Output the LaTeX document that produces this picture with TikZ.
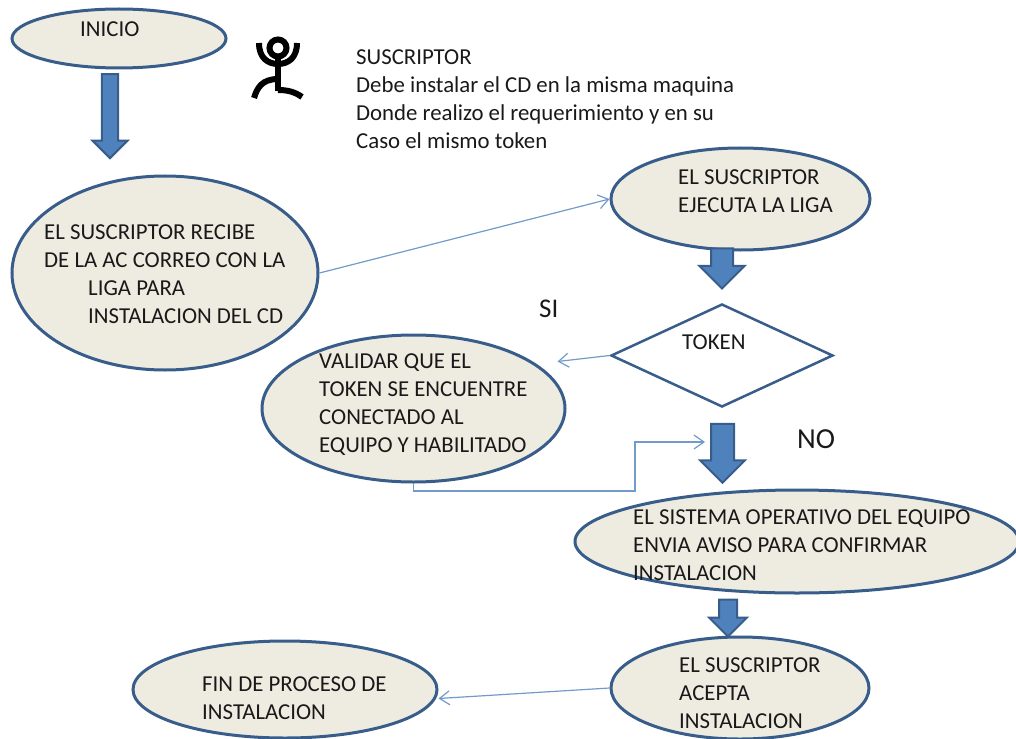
\documentclass[tikz,border=0pt]{standalone}
\usepackage{fontspec}
\setmainfont{Carlito}
\usepackage{tikz}
\usetikzlibrary{shapes, arrows.meta, positioning}
\definecolor{paleback}{HTML}{EEECE1}
\definecolor{darkedge}{HTML}{385D8A}
\definecolor{midblue}{HTML}{4F81BD}
\tikzset{
  oval/.style={ellipse, draw=darkedge, line width=3pt, fill=paleback, inner sep=0pt},
  rombo/.style={diamond, draw=darkedge, line width=2.5pt, fill=white, inner sep=0pt},
  bloque/.style={single arrow, draw=darkedge, line width=2pt, fill=midblue, inner xsep=0pt, rotate=-90, single arrow tip angle=90},
  liga/.style={draw=midblue!80, line width=1.2pt, -{Straight Barb[length=10pt,width=14pt]}},
  rotulo/.style={anchor=north west, align=left, inner sep=0pt, text=black!90, font=\fontsize{22.8}{28}\selectfont},
}
\begin{document}
\begin{tikzpicture}[x=1pt,y=-1pt]
\useasboundingbox (0,0) rectangle (1016,738);
\clip (0,0) rectangle (1016,738);
% ovals
\node [oval, minimum width=214pt, minimum height=59pt] (inicio) at (119,38.5) {};
\node [oval, minimum width=306pt, minimum height=194pt] (recibe) at (165,273) {};
\node [oval, minimum width=259pt, minimum height=102pt] (ejecuta) at (740.5,199) {};
\node [rombo, minimum width=222pt, minimum height=103pt] (token) at (722,355.5) {};
\node [oval, minimum width=303pt, minimum height=147pt] (validar) at (413.5,408.5) {};
\node [oval, minimum width=444pt, minimum height=103pt] (sistema) at (797,541.5) {};
\node [oval, minimum width=258pt, minimum height=102pt] (acepta) at (740,688) {};
\node [oval, minimum width=304pt, minimum height=97pt] (fin) at (285,689.5) {};
% block arrows
\node [bloque, inner ysep=7pt, minimum height=84pt, minimum width=35pt, single arrow head extend=9pt] (flechauno) at (110,112) {};
\node [bloque, inner ysep=9.5pt, minimum height=40pt, minimum width=45pt, single arrow head extend=11pt] (flechados) at (722,263) {};
\node [bloque, inner ysep=10.5pt, minimum height=59pt, minimum width=45pt, single arrow head extend=11pt] (flechatres) at (722.5,447.5) {};
\node [bloque, inner ysep=8pt, minimum height=37pt, minimum width=37pt, single arrow head extend=10pt] (flechacuatro) at (728,613.5) {};
% thin links
\coordinate (llegada) at (705,442);
\draw [liga] (recibe.east) -- (ejecuta.west);
\draw [liga] (token.west) -- ([xshift=-9pt,yshift=47pt]validar.east);
\draw [liga] (validar.south) -- (413.5,491) -- (635,491) -- (635,442) -- (llegada);
\draw [liga] (acepta.west) -- ([yshift=-9pt]fin.east);
% figure
\node [circle, draw=black, line width=6pt, minimum size=17pt, inner sep=0pt] (cabeza) at (278,48) {};
\draw [line width=6pt] (259,43) .. controls (259,58) and (268,64) .. (278,64) .. controls (288,64) and (297,58) .. (297,43);
\draw [line width=6pt] (cabeza.south) -- (278,91);
\draw [line width=6pt] (278,79) .. controls (262,79) and (257,88) .. (254,98);
\draw [line width=6pt] (278,90) .. controls (288,90) and (295,92) .. (302,97);
% texts
\node [rotulo] (tinicio) at (80,22) {INICIO};
\node [rotulo] (tsuscriptor) at (356,50) {SUSCRIPTOR\\Debe instalar el CD en la misma maquina\\Donde realizo el requerimiento y en su\\Caso el mismo token};
\node [rotulo] (trecibe) at (44,225) {EL SUSCRIPTOR RECIBE\\DE LA AC CORREO CON LA\\\hspace{44pt}LIGA PARA\\\hspace{44pt}INSTALACION DEL CD};
\node [rotulo] (tejecuta) at (678,170) {EL SUSCRIPTOR\\EJECUTA LA LIGA};
\node [rotulo] (ttoken) at (682,335) {TOKEN};
\node [rotulo] (tvalidar) at (319,353) {VALIDAR QUE EL\\TOKEN SE ENCUENTRE\\CONECTADO AL\\EQUIPO Y HABILITADO};
\node [rotulo] (tsistema) at (633,509) {EL SISTEMA OPERATIVO DEL EQUIPO\\ENVIA AVISO PARA CONFIRMAR\\INSTALACION};
\node [rotulo] (tacepta) at (679,657) {EL SUSCRIPTOR\\ACEPTA\\INSTALACION};
\node [rotulo] (tfin) at (202,676) {FIN DE PROCESO DE\\INSTALACION};
\node [rotulo, font=\fontsize{27}{30}\selectfont] (tsi) at (539,300) {SI};
\node [rotulo, font=\fontsize{29}{30}\selectfont] (tno) at (797,429) {NO};
\end{tikzpicture}
\end{document}
